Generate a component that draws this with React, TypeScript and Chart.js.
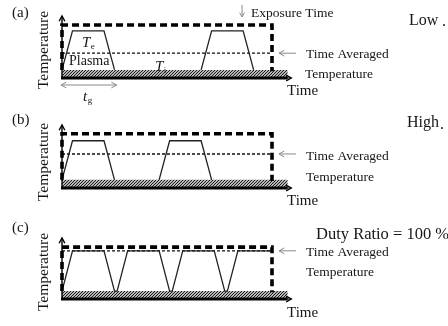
import React, { useEffect, useRef } from "react";
import { Chart, registerables } from "chart.js";

Chart.register(...registerables);

// ---- shared time axis (arbitrary units) ----
const X_MAX = 44;
const EXPOSURE_END = 40;
const HATCH_END = 43;
const X_ARROW_TIP = 43.7;
const Y_MAX = 100;

// ---- panel (a): low duty ratio ----
const plasmaTimesA = [0, 2, 8, 10, null, 26.5, 28.5, 34.5, 36.5];
const plasmaTempsA = [13, 76, 76, 13, null, 13, 76, 76, 13];
const surfaceTempA = 13;
const timeAveragedA = 40;
const exposureTopA = 85.5;

// ---- panel (b): high duty ratio ----
const plasmaTimesB = [0, 2, 8, 10, null, 18.5, 20.5, 26.5, 28.5];
const plasmaTempsB = [13, 75, 75, 13, null, 13, 75, 75, 13];
const surfaceTempB = 13;
const timeAveragedB = 54;
const exposureTopB = 86;

// ---- panel (c): duty ratio = 100 % ----
const plasmaTimesC = [0, 2, 8, 10, 10.5, 12.5, 18.5, 20.5, 21, 23, 29, 31, 31.5, 33.5, 40];
const plasmaTempsC = [13, 79, 79, 13, 13, 79, 79, 13, 13, 79, 79, 13, 13, 79, 79];
const surfaceTempC = 13;
const timeAveragedC = 79;
const exposureTopC = 85;

const SERIF = '"Liberation Serif", "Times New Roman", serif';
const INK = "#161616";
const GRAY = "#8a8a8a";

type Label = {
  text: string;
  x: number;
  y: number;
  size: number;
  italic?: boolean;
  sub?: string;
  rotate?: boolean;
  align?: CanvasTextAlign;
};

type PanelCfg = {
  top: number;
  height: number;
  padTop: number;
  padBottom: number;
  times: (number | null)[];
  temps: (number | null)[];
  surface: number;
  avg: number;
  exposureTop: number;
  labels: Label[];
  exposureArrow?: boolean;
  tgArrow?: boolean;
};

const panels: PanelCfg[] = [
  {
    top: 0,
    height: 105,
    padTop: 16,
    padBottom: 27,
    times: plasmaTimesA,
    temps: plasmaTempsA,
    surface: surfaceTempA,
    avg: timeAveragedA,
    exposureTop: exposureTopA,
    exposureArrow: true,
    tgArrow: true,
    labels: [
      { text: "(a)", x: 12, y: 13, size: 15 },
      { text: "Temperature", x: 44, y: 50, size: 15.5, rotate: true },
      { text: "T", sub: "e", x: 82, y: 43, size: 15, italic: true },
      { text: "Plasma", x: 69, y: 61, size: 14 },
      { text: "T", sub: "i", x: 155, y: 67, size: 15, italic: true },
      { text: "t", sub: "g", x: 83, y: 97, size: 15, italic: true },
      { text: "Exposure Time", x: 251, y: 13, size: 13.5 },
      { text: "Low", x: 409, y: 21, size: 16 },
      { text: ".", x: 442, y: 22, size: 16 },
      { text: "Time Averaged", x: 306, y: 54, size: 13.5 },
      { text: "Temperature", x: 305, y: 74, size: 13.5 },
      { text: "Time", x: 287, y: 91, size: 15 },
    ],
  },
  {
    top: 105,
    height: 110,
    padTop: 20,
    padBottom: 27,
    times: plasmaTimesB,
    temps: plasmaTempsB,
    surface: surfaceTempB,
    avg: timeAveragedB,
    exposureTop: exposureTopB,
    labels: [
      { text: "(b)", x: 12, y: 15, size: 15 },
      { text: "Temperature", x: 44, y: 57, size: 15.5, rotate: true },
      { text: "High", x: 407, y: 18, size: 16 },
      { text: ".", x: 440, y: 20, size: 16 },
      { text: "Time Averaged", x: 306, y: 51, size: 13.5 },
      { text: "Temperature", x: 306, y: 72, size: 13.5 },
      { text: "Time", x: 287, y: 96, size: 15 },
    ],
  },
  {
    top: 215,
    height: 111,
    padTop: 23,
    padBottom: 27,
    times: plasmaTimesC,
    temps: plasmaTempsC,
    surface: surfaceTempC,
    avg: timeAveragedC,
    exposureTop: exposureTopC,
    labels: [
      { text: "(c)", x: 12, y: 13, size: 15 },
      { text: "Temperature", x: 44, y: 57, size: 15.5, rotate: true },
      { text: "Duty Ratio = 100 %", x: 316, y: 20, size: 16.5 },
      { text: "Time Averaged", x: 306, y: 37, size: 13.5 },
      { text: "Temperature", x: 306, y: 57, size: 13.5 },
      { text: "Time", x: 287, y: 98, size: 15 },
    ],
  },
];

function makeHatch(): CanvasPattern | string {
  const c = document.createElement("canvas");
  c.width = 3;
  c.height = 3;
  const g = c.getContext("2d");
  if (!g) return "#666";
  g.fillStyle = "#fff";
  g.fillRect(0, 0, 3, 3);
  g.strokeStyle = "#111";
  g.lineWidth = 1.15;
  g.beginPath();
  g.moveTo(-1, 4);
  g.lineTo(4, -1);
  g.moveTo(-1, 1);
  g.lineTo(1, -1);
  g.moveTo(2, 4);
  g.lineTo(4, 2);
  g.stroke();
  return g.createPattern(c, "repeat") || "#666";
}

function line(ctx: CanvasRenderingContext2D, x1: number, y1: number, x2: number, y2: number) {
  ctx.beginPath();
  ctx.moveTo(x1, y1);
  ctx.lineTo(x2, y2);
  ctx.stroke();
}

function head(ctx: CanvasRenderingContext2D, tx: number, ty: number, ang: number, size: number) {
  const a1 = ang + Math.PI - 0.5;
  const a2 = ang + Math.PI + 0.5;
  ctx.beginPath();
  ctx.moveTo(tx + Math.cos(a1) * size, ty + Math.sin(a1) * size);
  ctx.lineTo(tx, ty);
  ctx.lineTo(tx + Math.cos(a2) * size, ty + Math.sin(a2) * size);
  ctx.stroke();
}

function makeDecor(cfg: PanelCfg) {
  return {
    id: "decor",
    afterDatasetsDraw(chart: any) {
      const ctx: CanvasRenderingContext2D = chart.ctx;
      const xs = chart.scales.x;
      const ys = chart.scales.y;
      const x0 = xs.getPixelForValue(0);
      const y0 = ys.getPixelForValue(0);
      const yTop = ys.getPixelForValue(Y_MAX);
      ctx.save();
      ctx.lineCap = "butt";
      // y axis with arrow
      ctx.strokeStyle = "#000";
      ctx.lineWidth = 1.4;
      line(ctx, x0, y0, x0, yTop);
      head(ctx, x0, yTop, -Math.PI / 2, 6);
      // x axis: thick base line + arrow
      ctx.lineWidth = 3;
      line(ctx, x0 - 1, y0, xs.getPixelForValue(HATCH_END), y0);
      ctx.lineWidth = 1.2;
      line(ctx, xs.getPixelForValue(HATCH_END), y0, xs.getPixelForValue(X_ARROW_TIP), y0);
      head(ctx, xs.getPixelForValue(X_ARROW_TIP), y0, 0, 6);

      // gray annotation arrows
      ctx.strokeStyle = GRAY;
      ctx.lineWidth = 1;
      const xe = xs.getPixelForValue(EXPOSURE_END);
      const ya = ys.getPixelForValue(cfg.avg);
      line(ctx, xe + 24, ya, xe + 7, ya);
      head(ctx, xe + 7, ya, Math.PI, 6);
      if (cfg.exposureArrow) {
        const xa = xs.getPixelForValue(34.3);
        const yt = ys.getPixelForValue(cfg.exposureTop);
        line(ctx, xa, yt - 20, xa, yt - 8);
        head(ctx, xa, yt - 8, Math.PI / 2, 5);
      }
      if (cfg.tgArrow) {
        const yg = y0 + 7;
        const xl = x0 - 1;
        const xr = xs.getPixelForValue(10.4);
        line(ctx, xl, yg, xr, yg);
        head(ctx, xl, yg, Math.PI, 6);
        head(ctx, xr, yg, 0, 6);
      }
      ctx.restore();
    },
    afterDraw(chart: any) {
      const ctx: CanvasRenderingContext2D = chart.ctx;
      ctx.save();
      ctx.fillStyle = INK;
      ctx.textBaseline = "middle";
      for (const l of cfg.labels) {
        ctx.font = `${l.italic ? "italic " : ""}${l.size}px ${SERIF}`;
        if (l.rotate) {
          ctx.save();
          ctx.translate(l.x, l.y);
          ctx.rotate(-Math.PI / 2);
          ctx.textAlign = "center";
          ctx.fillText(l.text, 0, 0);
          ctx.restore();
          continue;
        }
        ctx.textAlign = l.align || "left";
        ctx.fillText(l.text, l.x, l.y);
        if (l.sub) {
          const w = ctx.measureText(l.text).width;
          ctx.font = `${Math.round(l.size * 0.62)}px ${SERIF}`;
          ctx.fillText(l.sub, l.x + w + 0.5, l.y + 4);
        }
      }
      ctx.restore();
    },
  };
}

function Panel({ cfg }: { cfg: PanelCfg }) {
  const ref = useRef<HTMLCanvasElement>(null);
  useEffect(() => {
    if (!ref.current) return;
    const pattern = makeHatch();
    const plasma = cfg.times.map((t, i) => ({ x: t === null ? NaN : t, y: cfg.temps[i] }));
    const chart = new Chart(ref.current, {
      type: "line",
      data: {
        datasets: [
          {
            label: "surface",
            data: [
              { x: 0, y: cfg.surface },
              { x: HATCH_END, y: cfg.surface },
            ],
            fill: "origin",
            backgroundColor: pattern as any,
            borderWidth: 0,
            borderColor: "rgba(0,0,0,0)",
            pointRadius: 0,
            order: 10,
            clip: false as any,
          },
          {
            label: "time averaged",
            data: [
              { x: 0, y: cfg.avg },
              { x: EXPOSURE_END, y: cfg.avg },
            ],
            borderColor: "#111",
            borderWidth: 1.3,
            borderDash: [3, 2],
            pointRadius: 0,
            fill: false,
            order: 6,
            clip: false as any,
          },
          {
            label: "plasma",
            data: plasma as any,
            borderColor: "#222",
            borderWidth: 1.3,
            pointRadius: 0,
            fill: false,
            spanGaps: false,
            order: 4,
            clip: false as any,
          },
          {
            label: "exposure",
            data: [
              { x: 0, y: cfg.surface },
              { x: 0, y: cfg.exposureTop },
              { x: EXPOSURE_END, y: cfg.exposureTop },
              { x: EXPOSURE_END, y: cfg.surface - 2 },
            ],
            borderColor: "#000",
            borderWidth: 3.6,
            borderDash: [7, 4],
            borderCapStyle: "butt",
            borderJoinStyle: "miter",
            pointRadius: 0,
            fill: false,
            order: 1,
            clip: false as any,
          },
        ],
      },
      options: {
        animation: false,
        responsive: false,
        maintainAspectRatio: false,
        events: [],
        layout: { padding: { left: 62, right: 155, top: cfg.padTop, bottom: cfg.padBottom } },
        elements: { line: { tension: 0 }, point: { radius: 0 } },
        scales: {
          x: { type: "linear", min: 0, max: X_MAX, display: false },
          y: { type: "linear", min: 0, max: Y_MAX, display: false },
        },
        plugins: { legend: { display: false }, tooltip: { enabled: false } },
      },
      plugins: [makeDecor(cfg)],
    });
    return () => chart.destroy();
  }, [cfg]);
  return (
    <div style={{ position: "absolute", left: 0, top: cfg.top, width: 448, height: cfg.height }}>
      <canvas ref={ref} width={448} height={cfg.height} style={{ display: "block" }} />
    </div>
  );
}

export default function App() {
  return (
    <div
      style={{
        position: "fixed",
        left: 0,
        top: 0,
        width: 448,
        height: 326,
        background: "#fff",
        overflow: "hidden",
      }}
    >
      {panels.map((p, i) => (
        <Panel key={i} cfg={p} />
      ))}
    </div>
  );
}
